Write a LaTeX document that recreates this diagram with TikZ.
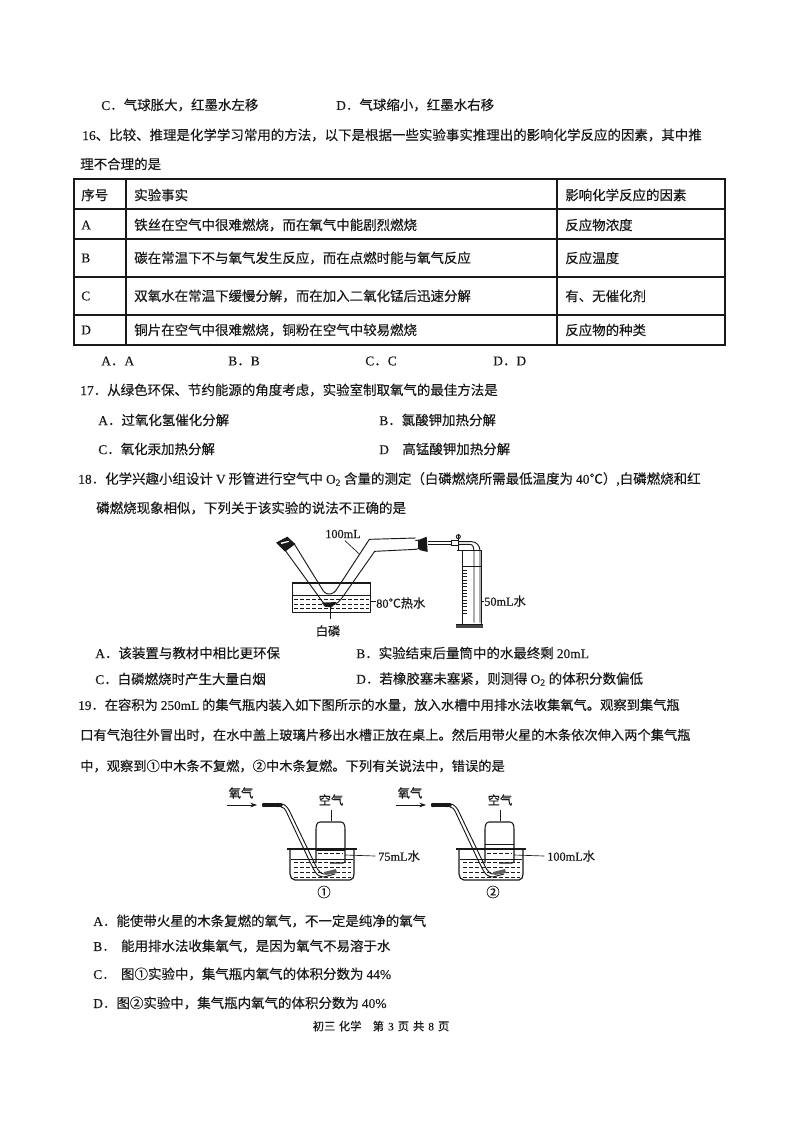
\documentclass[tikz,border=0pt]{standalone}
\usepackage{fontspec}
\usetikzlibrary{arrows.meta}
\setmainfont[FakeBold=0.25]{Noto Sans CJK SC}
\newfontfamily\lat[FakeBold=0.25]{Liberation Serif}
\newcommand{\lt}[1]{{\lat #1}}
\definecolor{ink}{gray}{0.1}
\tikzset{
  px/.style={x=0.75pt,y=-0.75pt},
  txt/.style={anchor=west,inner sep=0pt,font=\fontsize{10.1pt}{12pt}\selectfont,text=ink},
  txts/.style={txt,font=\fontsize{9.95pt}{12pt}\selectfont},
  lab/.style={anchor=center,inner sep=0pt,font=\fontsize{9.2pt}{11pt}\selectfont,text=ink},
  rule/.style={draw=ink,line width=0.9pt},
  thin line/.style={draw=ink,line width=0.5pt},
  glass/.style={draw=ink,line width=0.7pt,line join=round},
  water/.style={draw=ink,line width=0.5pt,dash pattern=on 3pt off 1.5pt},
}
\newcommand{\apparatus}[5]{% #1 x-shift, #2 name, #3 label, #4 circled, #5 bottle water level
\begin{scope}[shift={(#1,0)}]
  % trough
  \draw[glass,line width=0.9pt] (290,850) -- (290,874) to[out=-90,in=180] (295,880) -- (350,880) to[out=0,in=-90] (354,874) -- (354,850);
  \draw[rule,line width=1.1pt] (287,849) -- (357,849);
  \draw[glass] (291,859) -- (353,859);
  \foreach \yy in {862,867,872,877} \draw[water] (294,\yy) -- (351,\yy);
  % bottle
  \draw[glass,line width=0.8pt] (316,863) -- (316,829) to[out=90,in=180] (320,822) -- (341,822) to[out=0,in=90] (345,829) -- (345,862) -- (343,863) -- (330,863);
  \draw[thin line] (316,#5) -- (345,#5);
  \draw[water] (318,853) -- (343,853);
  \draw[thin line] (331,821) -- (331,810);
  % tube
  \draw[glass] (281,804) to[out=0,in=125] (289,810) -- (313,860) to[out=-60,in=180] (325,874) -- (332,872);
  \draw[glass] (281,807) to[out=0,in=120] (286,811) -- (309,860) to[out=-60,in=180] (324,877) -- (335,874);
  \fill[ink!70] (324,872) -- (336,869) -- (337,873) -- (326,875) -- cycle;
  \draw[ink,line width=2.6pt,line cap=round] (264,805) -- (281,805);
  \fill[ink] (264,805) circle (2.2) (278,805) circle (2.2);
  % arrow
  \coordinate (#2s) at (227,805);
  \coordinate (#2t) at (257,805);
  \draw[-{Stealth[length=5pt,width=3.5pt]},thin line] (#2s) -- (#2t);
  \node[lab] (#2a) at (241,793) {氧气};
  \node[lab] (#2b) at (331,800) {空气};
  \coordinate (#2c) at (345,855);
  \node[lab,anchor=west] (#2d) at (378,856) {#3};
  \draw[thin line] (#2c) -- ([xshift=-2]#2d.west);
  \node[lab,font=\fontsize{10pt}{12pt}\selectfont] (#2e) at (324,892) {#4};
\end{scope}}
\begin{document}
\begin{tikzpicture}[px]
\useasboundingbox (0,0) rectangle (794,1122);
\fill[white] (0,0) rectangle (794,1122);
% top
\node[txt] (a1) at (101,105) {\lt{C}．气球胀大，红墨水左移};
\node[txt] (a2) at (336,105) {\lt{D}．气球缩小，红墨水右移};
\node[txt] (q16a) at (82,135) {\lt{16}、比较、推理是化学学习常用的方法，以下是根据一些实验事实推理出的影响化学反应的因素，其中推};
\node[txt] (q16b) at (80,164) {理不合理的是};
% table
\draw[rule] (74,179) rectangle (725,345);
\foreach \yy in {209,239,277,315} \draw[rule] (74,\yy) -- (725,\yy);
\draw[rule] (126,179) -- (126,345);
\draw[rule] (557,179) -- (557,345);
\node[txt] (h1) at (81,195) {序号};
\node[txt] (h2) at (134,195) {实验事实};
\node[txt] (h3) at (565,195) {影响化学反应的因素};
\node[txt] (ra) at (81,225) {\lt{A}};
\node[txt] (rb) at (81,258) {\lt{B}};
\node[txt] (rc) at (81,296) {\lt{C}};
\node[txt] (rd) at (81,330) {\lt{D}};
\node[txt] (fa) at (134,225) {铁丝在空气中很难燃烧，而在氧气中能剧烈燃烧};
\node[txt] (fb) at (134,258) {碳在常温下不与氧气发生反应，而在点燃时能与氧气反应};
\node[txt] (fc) at (134,296) {双氧水在常温下缓慢分解，而在加入二氧化锰后迅速分解};
\node[txt] (fd) at (134,330) {铜片在空气中很难燃烧，铜粉在空气中较易燃烧};
\node[txt] (ga) at (565,225) {反应物浓度};
\node[txt] (gb) at (565,258) {反应温度};
\node[txt] (gc) at (565,296) {有、无催化剂};
\node[txt] (gd) at (565,330) {反应物的种类};
\node[txt] (o1) at (101,361) {\lt{A}．\lt{A}};
\node[txt] (o2) at (228,361) {\lt{B}．\lt{B}};
\node[txt] (o3) at (365,361) {\lt{C}．\lt{C}};
\node[txt] (o4) at (493,361) {\lt{D}．\lt{D}};
% 17
\node[txt] (q17) at (80,390) {\lt{17}．从绿色环保、节约能源的角度考虑，实验室制取氧气的最佳方法是};
\node[txt] (s1) at (98,420) {\lt{A}．过氧化氢催化分解};
\node[txt] (s2) at (379,420) {\lt{B}．氯酸钾加热分解};
\node[txt] (s3) at (98,449) {\lt{C}．氧化汞加热分解};
\node[txt] (s4) at (379,449) {\lt{D}\hspace{1em}高锰酸钾加热分解};
% 18
\node[txt] (q18a) at (78,479) {\lt{18}．化学兴趣小组设计 \lt{V} 形管进行空气中 \lt{O\textsubscript{2}} 含量的测定（白磷燃烧所需最低温度为 \lt{40}℃）\lt{,}白磷燃烧和红};
\node[txt] (q18b) at (96,508) {磷燃烧现象相似，下列关于该实验的说法不正确的是};
% V-tube
\begin{scope}[shift={(250,520)},x=0.25pt,y=-0.25pt]
  \draw[rule,line width=1.3pt] (127,188) -- (362,188);
  \draw[glass] (127,188) rectangle (362,278);
  \draw[glass] (127,225) -- (362,225);
  \foreach \yy in {238,252,266} \draw[water] (132,\yy) -- (358,\yy);
  \draw[glass] (107,93) -- (205,228) to[out=-55,in=180] (240,256) to[out=0,in=-125] (280,228) -- (374,94) -- (497,88);
  \draw[glass] (133,72) -- (215,205) to[out=-60,in=180] (237,222) to[out=0,in=-120] (262,205) -- (358,58) -- (497,54);
  \fill[ink] (78,68) -- (112,50) -- (136,72) -- (105,95) -- cycle;
  \fill[white] (92,68) -- (118,62) -- (116,66) -- (94,72) -- cycle;
  \fill[ink] (215,248) -- (260,246) -- (245,262) -- (225,260) -- cycle;
  \draw[thin line] (240,258) -- (240,298);
  \draw[thin line] (362,245) -- (378,245);
  \draw[thin line] (285,62) -- (330,104);
  \draw[glass] (496,62) -- (506,60) -- (506,86) -- (496,88);
  \fill[ink] (506,60) -- (530,50) -- (533,96) -- (508,90) -- cycle;
  \draw[glass] (533,64) -- (606,64);
  \draw[glass] (533,73) -- (606,73);
  \draw[glass,fill=white] (604,62) rectangle (626,76);
  \draw[glass] (626,65) -- (665,65) to[out=0,in=90] (690,92) -- (690,308);
  \draw[glass] (626,73) -- (660,73) to[out=0,in=90] (672,92) -- (672,308);
  \draw[rule] (625,42) -- (625,92);
  \draw[glass] (625,50) circle (6);
  \draw[glass] (622,90) -- (694,90);
  \draw[glass] (637,92) -- (637,312);
  \draw[glass] (695,90) -- (695,312);
  \draw[glass] (637,140) -- (695,140);
  \draw[rule] (618,314) -- (698,314);
  \fill[ink!80] (618,315) rectangle (698,323);
  \foreach \yy in {150,160,...,280} \draw[thin line] (640,\yy) -- (650,\yy);
  \draw[thin line] (695,245) -- (702,245);
\end{scope}
\node[lab] (v1) at (343,534) {\lt{100mL}};
\node[lab,anchor=west] (v2) at (376,603) {\lt{80}℃热水};
\node[lab] (v3) at (328,631) {白磷};
\node[lab,anchor=west] (v4) at (484,601) {\lt{50mL}水};
% options 18
\node[txt] (t1) at (95,653) {\lt{A}．该装置与教材中相比更环保};
\node[txt] (t2) at (356,653) {\lt{B}．实验结束后量筒中的水最终剩 \lt{20mL}};
\node[txt] (t3) at (95,679) {\lt{C}．白磷燃烧时产生大量白烟};
\node[txt] (t4) at (356,679) {\lt{D}．若橡胶塞未塞紧，则测得 \lt{O\textsubscript{2}} 的体积分数偏低};
% 19
\node[txts] (q19a) at (78,705) {\lt{19}．在容积为 \lt{250mL} 的集气瓶内装入如下图所示的水量，放入水槽中用排水法收集氧气。观察到集气瓶};
\node[txts] (q19b) at (80,735) {口有气泡往外冒出时，在水中盖上玻璃片移出水槽正放在桌上。然后用带火星的木条依次伸入两个集气瓶};
\node[txts] (q19c) at (80,766) {中，观察到①中木条不复燃，②中木条复燃。下列有关说法中，错误的是};
\apparatus{0}{pa}{\lt{75mL}水}{①}{850}
\apparatus{169}{pb}{\lt{100mL}水}{②}{844}
% answers 19
\node[txt] (u1) at (93,921) {\lt{A}．能使带火星的木条复燃的氧气，不一定是纯净的氧气};
\node[txt] (u2) at (93,946) {\lt{B}．\hspace{0.4em}能用排水法收集氧气，是因为氧气不易溶于水};
\node[txt] (u3) at (93,974) {\lt{C}．\hspace{0.4em}图①实验中，集气瓶内氧气的体积分数为 \lt{44\%}};
\node[txt] (u4) at (93,1003) {\lt{D}．图②实验中，集气瓶内氧气的体积分数为 \lt{40\%}};
\node[txt,anchor=center,font=\fontsize{8.5pt}{10pt}\selectfont] (foot) at (381,1026) {初三\hspace{0.3em}化学\hspace{1em}第\hspace{0.35em}\lt{3}\hspace{0.35em}页\hspace{0.35em}共\hspace{0.35em}\lt{8}\hspace{0.35em}页};
\end{tikzpicture}
\end{document}
